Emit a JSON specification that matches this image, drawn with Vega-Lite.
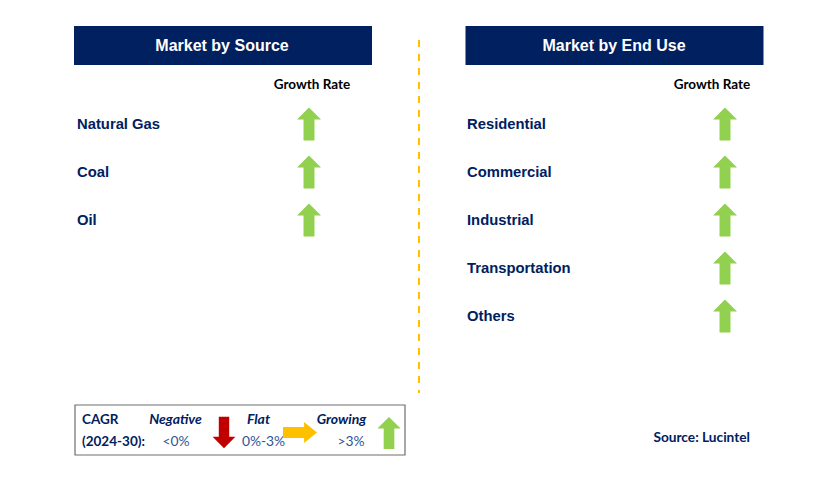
{
  "$schema": "https://vega.github.io/schema/vega-lite/v6.json",
  "width": 829,
  "height": 502,
  "autosize": {"type": "fit", "contains": "padding"},
  "padding": 0,
  "background": "white",
  "config": {"view": {"stroke": null}, "axis": {"disable": true}},
  "data": {"values": [{"note": "layout"}]},
  "datasets": {
    "panels": [
      {"panel": "Market by Source"},
      {"panel": "Market by End Use"}
    ],
    "segments": [
      {"panel": "Market by Source", "item": "Natural Gas", "rank": 1, "growth": "Growing"},
      {"panel": "Market by Source", "item": "Coal", "rank": 2, "growth": "Growing"},
      {"panel": "Market by Source", "item": "Oil", "rank": 3, "growth": "Growing"},
      {"panel": "Market by End Use", "item": "Residential", "rank": 1, "growth": "Growing"},
      {"panel": "Market by End Use", "item": "Commercial", "rank": 2, "growth": "Growing"},
      {"panel": "Market by End Use", "item": "Industrial", "rank": 3, "growth": "Growing"},
      {"panel": "Market by End Use", "item": "Transportation", "rank": 4, "growth": "Growing"},
      {"panel": "Market by End Use", "item": "Others", "rank": 5, "growth": "Growing"}
    ],
    "legend": [
      {"trend": "Negative", "cagr": "<0%"},
      {"trend": "Flat", "cagr": "0%-3%"},
      {"trend": "Growing", "cagr": ">3%"}
    ]
  },
  "resolve": {"scale": {"x": "independent"}},
  "layer": [
    {
      "data": {"name": "panels"},
      "mark": {"type": "point", "shape": "M-1,-0.1309L1,-0.1309L1,0.1309L-1,0.1309Z", "filled": true, "color": "#002060", "opacity": 1, "size": 88804, "strokeWidth": 0},
      "encoding": {
        "x": {"field": "panel", "type": "nominal", "scale": {"type": "point", "domain": ["Market by Source", "Market by End Use"], "range": [223, 614.5], "padding": 0}},
        "y": {"datum": -0.635, "type": "quantitative", "scale": {"domain": [-1.5833, 8.875], "reverse": true, "nice": false, "zero": false}}
      }
    },
    {
      "data": {"name": "panels"},
      "mark": {"type": "text", "font": "Liberation Sans", "fontWeight": "bold", "fontSize": 16, "color": "white", "align": "center", "baseline": "middle"},
      "encoding": {
        "x": {"field": "panel", "type": "nominal", "scale": {"type": "point", "domain": ["Market by Source", "Market by End Use"], "range": [222, 614], "padding": 0}},
        "y": {"datum": -0.625, "type": "quantitative", "scale": {"domain": [-1.5833, 8.875], "reverse": true, "nice": false, "zero": false}},
        "text": {"field": "panel"}
      }
    },
    {
      "data": {"name": "panels"},
      "mark": {"type": "text", "font": "Lato", "fontWeight": "bold", "fontSize": 13.5, "color": "#000000", "align": "center", "baseline": "middle"},
      "encoding": {
        "x": {"field": "panel", "type": "nominal", "scale": {"type": "point", "domain": ["Market by Source", "Market by End Use"], "range": [312, 712], "padding": 0}},
        "y": {"datum": 0.1875, "type": "quantitative", "scale": {"domain": [-1.5833, 8.875], "reverse": true, "nice": false, "zero": false}},
        "text": {"value": "Growth Rate"}
      }
    },
    {
      "data": {"name": "segments"},
      "mark": {"type": "text", "font": "Liberation Sans", "fontWeight": "bold", "fontSize": 14.8, "color": "#002060", "align": "left", "baseline": "middle", "dy": 1},
      "encoding": {
        "x": {"field": "panel", "type": "nominal", "scale": {"type": "point", "domain": ["Market by Source", "Market by End Use"], "range": [77, 467], "padding": 0}},
        "y": {"field": "rank", "type": "quantitative", "scale": {"domain": [-1.5833, 8.875], "reverse": true, "nice": false, "zero": false}},
        "text": {"field": "item"}
      }
    },
    {
      "data": {"name": "segments"},
      "mark": {"type": "point", "filled": true, "opacity": 1, "size": 1089, "strokeWidth": 0},
      "encoding": {
        "x": {"field": "panel", "type": "nominal", "scale": {"type": "point", "domain": ["Market by Source", "Market by End Use"], "range": [309, 725], "padding": 0}},
        "y": {"field": "rank", "type": "quantitative", "scale": {"domain": [-1.5833, 8.875], "reverse": true, "nice": false, "zero": false}},
        "shape": {"field": "growth", "type": "nominal", "legend": null, "scale": {"domain": ["Negative", "Flat", "Growing"], "range": ["M0,1L0.727,0.273L0.333,0.273L0.333,-1L-0.333,-1L-0.333,0.273L-0.727,0.273Z", "M1,0L0.24,-0.62L0.24,-0.32L-1,-0.32L-1,0.32L0.24,0.32L0.24,0.62Z", "M0,-1L0.727,-0.273L0.333,-0.273L0.333,1L-0.333,1L-0.333,-0.273L-0.727,-0.273Z"]}},
        "color": {"field": "growth", "type": "nominal", "legend": null, "scale": {"domain": ["Negative", "Flat", "Growing"], "range": ["#C00000", "#FFC000", "#92D050"]}}
      }
    },
    {
      "mark": {"type": "rule", "color": "#FFC000", "strokeWidth": 2, "strokeDash": [7, 7]},
      "encoding": {
        "x": {"datum": 419, "type": "quantitative", "scale": {"domain": [0, 829], "nice": false, "zero": false}},
        "y": {"datum": -0.75, "type": "quantitative", "scale": {"domain": [-1.5833, 8.875], "reverse": true, "nice": false, "zero": false}},
        "y2": {"datum": 6.604}
      }
    },
    {
      "mark": {"type": "rect", "fill": "white", "stroke": "#6E6E6E", "strokeWidth": 1.2},
      "encoding": {
        "x": {"datum": 75, "type": "quantitative", "scale": {"domain": [0, 829], "nice": false, "zero": false}},
        "x2": {"datum": 405},
        "y": {"datum": 6.854, "type": "quantitative", "scale": {"domain": [-1.5833, 8.875], "reverse": true, "nice": false, "zero": false}},
        "y2": {"datum": 7.896}
      }
    },
    {
      "mark": {"type": "text", "font": "Lato", "fontWeight": "bold", "fontSize": 13.5, "color": "#002060", "align": "left", "baseline": "middle"},
      "encoding": {
        "x": {"datum": 82, "type": "quantitative", "scale": {"domain": [0, 829], "nice": false, "zero": false}},
        "y": {"datum": 7.1667, "type": "quantitative", "scale": {"domain": [-1.5833, 8.875], "reverse": true, "nice": false, "zero": false}},
        "text": {"value": "CAGR"}
      }
    },
    {
      "mark": {"type": "text", "font": "Lato", "fontWeight": "bold", "fontSize": 13.5, "color": "#002060", "align": "left", "baseline": "middle"},
      "encoding": {
        "x": {"datum": 82, "type": "quantitative", "scale": {"domain": [0, 829], "nice": false, "zero": false}},
        "y": {"datum": 7.625, "type": "quantitative", "scale": {"domain": [-1.5833, 8.875], "reverse": true, "nice": false, "zero": false}},
        "text": {"value": "(2024-30):"}
      }
    },
    {
      "data": {"name": "legend"},
      "mark": {"type": "text", "font": "Lato", "fontWeight": "bold", "fontStyle": "italic", "fontSize": 14, "color": "#002060", "align": "center", "baseline": "middle"},
      "encoding": {
        "x": {"field": "trend", "type": "nominal", "scale": {"type": "point", "domain": ["Negative", "Flat", "Growing"], "range": [175.5, 341.5], "padding": 0}},
        "y": {"datum": 7.1667, "type": "quantitative", "scale": {"domain": [-1.5833, 8.875], "reverse": true, "nice": false, "zero": false}},
        "text": {"field": "trend"}
      }
    },
    {
      "data": {"name": "legend"},
      "mark": {"type": "text", "font": "Lato", "fontSize": 13.8, "color": "#2F5597", "align": "center", "baseline": "middle"},
      "encoding": {
        "x": {"field": "trend", "type": "nominal", "scale": {"type": "point", "domain": ["Negative", "Flat", "Growing"], "range": [176, 351], "padding": 0}},
        "y": {"datum": 7.625, "type": "quantitative", "scale": {"domain": [-1.5833, 8.875], "reverse": true, "nice": false, "zero": false}},
        "text": {"field": "cagr"}
      }
    },
    {
      "data": {"name": "legend"},
      "transform": [{"filter": "datum.trend === 'Negative'"}],
      "mark": {"type": "point", "filled": true, "opacity": 1, "size": 980, "strokeWidth": 0, "shape": "M0,1L0.727,0.273L0.333,0.273L0.333,-1L-0.333,-1L-0.333,0.273L-0.727,0.273Z", "color": "#C00000"},
      "encoding": {
        "x": {"datum": 224, "type": "quantitative", "scale": {"domain": [0, 829], "nice": false, "zero": false}},
        "y": {"datum": 7.427, "type": "quantitative", "scale": {"domain": [-1.5833, 8.875], "reverse": true, "nice": false, "zero": false}}
      }
    },
    {
      "data": {"name": "legend"},
      "transform": [{"filter": "datum.trend === 'Flat'"}],
      "mark": {"type": "point", "filled": true, "opacity": 1, "size": 1156, "strokeWidth": 0, "shape": "M1,0L0.24,-0.62L0.24,-0.32L-1,-0.32L-1,0.32L0.24,0.32L0.24,0.62Z", "color": "#FFC000"},
      "encoding": {
        "x": {"datum": 300, "type": "quantitative", "scale": {"domain": [0, 829], "nice": false, "zero": false}},
        "y": {"datum": 7.427, "type": "quantitative", "scale": {"domain": [-1.5833, 8.875], "reverse": true, "nice": false, "zero": false}}
      }
    },
    {
      "data": {"name": "legend"},
      "transform": [{"filter": "datum.trend === 'Growing'"}],
      "mark": {"type": "point", "filled": true, "opacity": 1, "size": 1024, "strokeWidth": 0, "shape": "M0,-1L0.727,-0.273L0.333,-0.273L0.333,1L-0.333,1L-0.333,-0.273L-0.727,-0.273Z", "color": "#92D050"},
      "encoding": {
        "x": {"datum": 389, "type": "quantitative", "scale": {"domain": [0, 829], "nice": false, "zero": false}},
        "y": {"datum": 7.437, "type": "quantitative", "scale": {"domain": [-1.5833, 8.875], "reverse": true, "nice": false, "zero": false}}
      }
    },
    {
      "mark": {"type": "text", "font": "Lato", "fontWeight": "bold", "fontSize": 13.7, "color": "#002060", "align": "right", "baseline": "middle"},
      "encoding": {
        "x": {"datum": 750, "type": "quantitative", "scale": {"domain": [0, 829], "nice": false, "zero": false}},
        "y": {"datum": 7.5417, "type": "quantitative", "scale": {"domain": [-1.5833, 8.875], "reverse": true, "nice": false, "zero": false}},
        "text": {"value": "Source: Lucintel"}
      }
    }
  ]
}
